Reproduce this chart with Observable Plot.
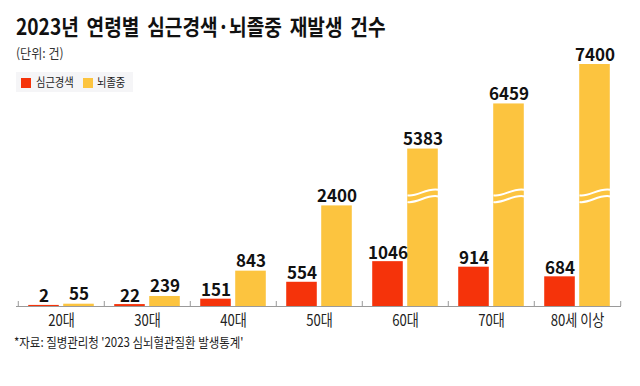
<!DOCTYPE html>
<html>
<head>
<meta charset="utf-8">
<script src="https://cdn.jsdelivr.net/npm/d3@7"></script>
<script src="https://cdn.jsdelivr.net/npm/@observablehq/plot@0.6"></script>
<style>
  body { margin: 0; background: #fff; }
  #wrap { position: relative; width: 640px; height: 386px; overflow: hidden; background: #fff;
          font-family: "Noto Sans CJK KR", "Noto Sans", sans-serif; color: #111; }
  .cz { display: inline-block; white-space: nowrap; transform-origin: left top; }
  #title { position: absolute; left: 16px; top: 14px; font-size: 22px; line-height: 22px; font-weight: 700; color: #111; }
  #title .cz { transform: scaleX(0.87); word-spacing: 4px; }
  #sub { position: absolute; left: 16px; top: 46px; font-size: 13px; line-height: 13px; color: #333; }
  #sub .cz { transform: scaleX(0.93); }
  #legend { position: absolute; left: 16px; top: 72px; width: 117px; height: 20px; background: #f5f5f7; }
  .sw { position: absolute; top: 6px; width: 10px; height: 10px; }
  .lt { position: absolute; top: 4px; font-size: 12.5px; line-height: 12.5px; color: #222; }
  .lt .cz { transform: scaleX(0.82); }
  #chart { position: absolute; left: 0; top: 40px; }
  #cap { position: absolute; left: 14px; top: 335px; font-size: 13px; line-height: 13px; color: #222; }
  #cap .cz { transform: scaleX(0.88); }
</style>
</head>
<body>
<div id="wrap">
  <div id="title"><span class="cz">2023년 연령별 심근경색·뇌졸중 재발생 건수</span></div>
  <div id="sub"><span class="cz">(단위: 건)</span></div>
  <div id="legend"></div>
  <div id="chart"></div>
  <div id="cap"><span class="cz">*자료: 질병관리청 '2023 심뇌혈관질환 발생통계'</span></div>
</div>
<script>
// ---- data ----
const ageGroups = ["20대", "30대", "40대", "50대", "60대", "70대", "80세 이상"];
const seriesNames = ["심근경색", "뇌졸중"];
const heartAttack = [2, 22, 151, 554, 1046, 914, 684];
const strokeCases = [55, 239, 843, 2400, 5383, 6459, 7400];
const axisBreak = [2640, 4267]; // range of values cut out by the broken axis
const colors = ["#f5330a", "#fcc43f"];

// ---- legend ----
const legend = document.getElementById("legend");
const legendPos = [[5, 20], [67, 81]];
seriesNames.forEach((name, i) => {
  const sw = document.createElement("div");
  sw.className = "sw";
  sw.style.left = legendPos[i][0] + "px";
  sw.style.background = colors[i];
  legend.appendChild(sw);
  const lt = document.createElement("div");
  lt.className = "lt";
  lt.style.left = legendPos[i][1] + "px";
  lt.innerHTML = `<span class="cz">${name}</span>`;
  legend.appendChild(lt);
});

// ---- chart ----
const W = 640, H = 296, mL = 16, mR = 19, mT = 24, mB = 30;
const bw = (W - mL - mR) / ageGroups.length;
const barW = 31, gap = 4;
const side = (bw - 2 * barW - gap) / 2;
const off = (barW + gap) / 2;

const redData = ageGroups.map((g, i) => ({group: g, value: heartAttack[i]}));
const yelData = ageGroups.map((g, i) => ({group: g, value: strokeCases[i]}));
const yMax = d3.max(strokeCases);
const cut = axisBreak[1] - axisBreak[0];
const breakTransform = v => v >= axisBreak[1] ? v - cut : Math.min(v, axisBreak[0]);

const wave = {
  draw(ctx) {
    ctx.moveTo(-15.5, -0.5);
    ctx.bezierCurveTo(-6, 1.5, 4, -8.5, 15.5, -6);
    ctx.moveTo(-15.5, 6.1);
    ctx.bezierCurveTo(-6, 8.1, 4, -1.9, 15.5, 0.6);
  }
};

const chart = Plot.plot({
  width: W, height: H,
  marginLeft: mL, marginRight: mR, marginTop: mT, marginBottom: mB,
  style: {fontFamily: "'Noto Sans CJK KR', sans-serif", background: "transparent", overflow: "visible"},
  x: {domain: ageGroups, padding: 0},
  y: {transform: breakTransform, domain: [0, breakTransform(yMax)], axis: null},
  marks: [
    Plot.barY(redData, {x: "group", y: "value", fill: colors[0], insetLeft: side, insetRight: bw - side - barW, insetTop: -1}),
    Plot.barY(yelData, {x: "group", y: "value", fill: colors[1], insetLeft: side + barW + gap, insetRight: side}),
    Plot.dot(yelData.filter(d => d.value > axisBreak[1]), {
      x: "group", y: () => axisBreak[0], dx: off, symbol: wave,
      fill: "none", stroke: "white", strokeWidth: 2, r: 1
    }),
    Plot.ruleY([0], {stroke: "#9a9a9a", strokeWidth: 1}),
    Plot.ruleX(ageGroups, {x: d => d, y1: 0, y2: 0, dx: -bw / 2, insetTop: -5, stroke: "#9a9a9a"}),
    Plot.ruleX(ageGroups.slice(-1), {x: d => d, y1: 0, y2: 0, dx: bw / 2, insetTop: -5, stroke: "#9a9a9a"}),
    Plot.text(redData, {x: "group", y: "value", text: d => String(d.value), dx: -off, dy: -4, lineAnchor: "bottom",
      fontSize: 17, fontWeight: "bold", fill: "#111", ariaLabel: "value-label"}),
    Plot.text(yelData, {x: "group", y: "value", text: d => String(d.value), dx: off, dy: -4, lineAnchor: "bottom",
      fontSize: 17, fontWeight: "bold", fill: "#111", ariaLabel: "value-label"}),
    Plot.axisX({tickSize: 0, tickPadding: 8, fontSize: 16, color: "#222", label: null})
  ]
});
document.getElementById("chart").appendChild(chart);

function condense(sel, s) {
  chart.querySelectorAll(sel).forEach(t => {
    const xa = parseFloat(t.getAttribute("x"));
    const x = isFinite(xa) ? xa : 0;
    const tr = t.getAttribute("transform") || "";
    t.setAttribute("transform", `${tr} translate(${x},0) scale(${s},1) translate(${-x},0)`);
  });
}
condense('g[aria-label="value-label"] text', 0.76);
condense('g[aria-label="x-axis tick label"] text', 0.82);
</script>
</body>
</html>
